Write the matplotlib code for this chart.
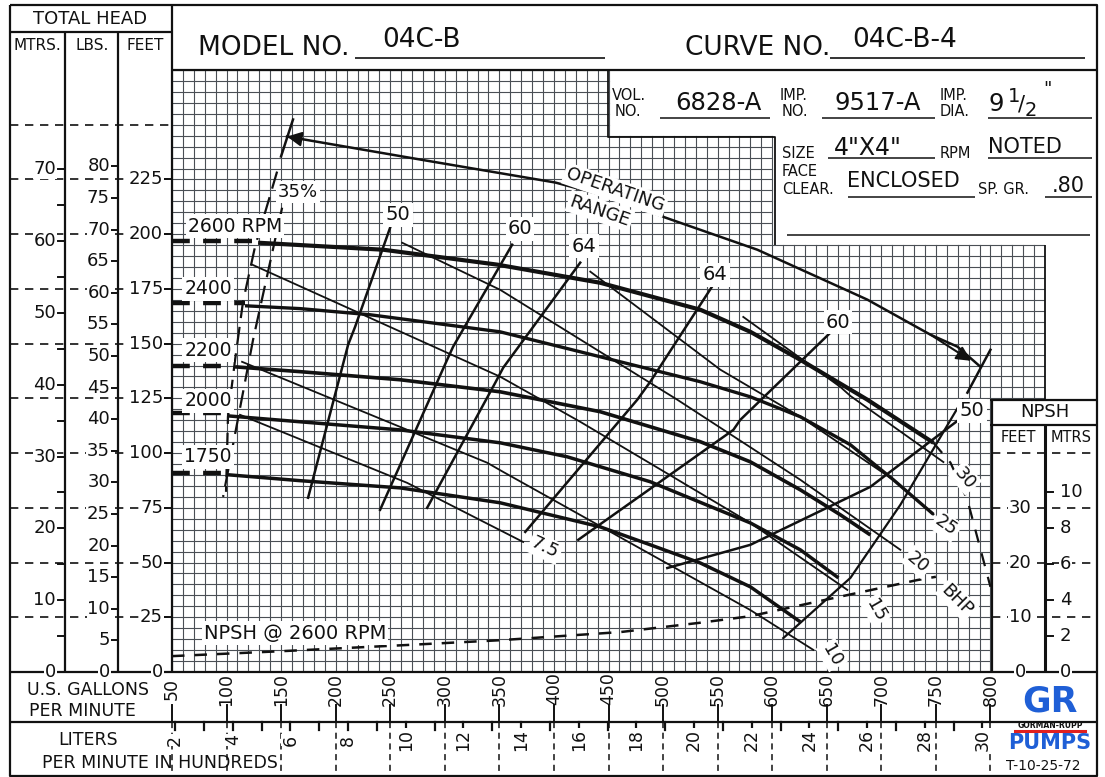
import numpy as np
import matplotlib
matplotlib.use('Agg')
import matplotlib.pyplot as plt
from matplotlib.transforms import blended_transform_factory as blend

plt.rcParams['font.family'] = ['DejaVu Sans']

# ---- head / capacity curves (US gpm, feet) ----
speeds = ['2600', '2400', '2200', '2000', '1750']
shutoff_ft = [197.0, 168.7, 139.9, 118.4, 91.0]
min_flow_gpm = [128.9, 116.9, 107.8, 101.3, 101.3]

q2600 = [128.9, 243.5, 348.0, 442.4, 534.1, 580.0, 625.8, 687.2, 747.8]
h2600 = [196.1, 192.9, 186.1, 177.8, 165.5, 155.4, 142.6, 124.4, 104.7]
q2600_run = [747.8, 763.4, 778.9, 800.0]
h2600_run = [104.7, 95.6, 78.6, 38.9]

q2400 = [116.9, 167.4, 231.5, 350.7, 442.4, 534.1, 580.0, 625.8, 671.7, 711.1, 747.8]
h2400 = [167.3, 166.0, 163.2, 155.4, 144.0, 132.6, 125.7, 116.6, 103.8, 87.8, 72.0]

q2200 = [107.8, 167.4, 259.1, 350.7, 442.4, 534.1, 580.0, 625.8, 662.5, 690.0]
h2200 = [139.4, 137.2, 133.5, 128.0, 118.9, 105.2, 96.0, 83.2, 71.8, 62.6]

q2000 = [101.3, 167.4, 259.1, 350.7, 412.2, 488.3, 580.0, 625.8, 660.7]
h2000 = [117.0, 114.3, 110.6, 104.7, 98.3, 86.9, 68.1, 55.8, 43.0]

q1750 = [101.3, 167.4, 259.1, 350.7, 442.4, 488.3, 534.1, 580.0, 625.8]
h1750 = [90.1, 87.4, 84.1, 77.3, 66.3, 58.1, 49.8, 38.9, 22.9]

# ---- brake horsepower lines ----
q_bhp75 = [112.3, 265.5, 371.8]
h_bhp75 = [117.5, 86.4, 59.4]
q_bhp10 = [114.2, 338.8, 353.5, 580.0, 637.7]
h_bhp10 = [141.7, 95.6, 91.4, 28.3, 10.1]
q_bhp15 = [123.4, 350.7, 424.1, 580.0, 668.9]
h_bhp15 = [186.1, 134.9, 114.3, 68.1, 37.5]
q_bhp20 = [260.9, 350.7, 513.0, 625.8, 717.5]
h_bhp20 = [196.1, 174.6, 124.4, 87.8, 55.8]
q_bhp25 = [433.3, 552.5, 625.8, 711.1, 747.8]
h_bhp25 = [182.9, 138.1, 116.6, 87.8, 72.0]
q_bhp30 = [573.5, 662.5, 671.7, 756.9]
h_bhp30 = [162.2, 130.2, 126.1, 95.9]

# ---- efficiency lines ----
eff_labels = ['50', '60', '64', '64', '60', '50']
q_e50a = [249.9, 217.8, 211.4, 174.7]
h_e50a = [203.0, 157.7, 149.5, 79.6]
q_e60a = [361.7, 307.6, 302.1, 240.7]
h_e60a = [195.2, 148.6, 142.6, 74.1]
q_e64a = [424.1, 353.5, 346.2, 283.8]
h_e64a = [187.0, 139.0, 132.1, 75.0]
q_e64b = [546.0, 488.3, 476.4, 373.7]
h_e64b = [176.9, 132.6, 124.4, 64.0]
q_e60b = [653.3, 570.8, 564.4, 422.3]
h_e60b = [155.0, 115.2, 110.6, 60.4]
q_e50b = [777.1, 690.0, 580.0, 503.9]
h_e50b = [117.5, 84.6, 58.1, 47.5]
q_e35 = [150.9, 124.3, 96.8]
h_e35 = [212.1, 151.8, 80.0]

# minimum flow line and maximum flow line
q_min = [146.3, 135.3, 126.1, 115.1, 107.8, 101.3, 99.5]
h_min = [228.6, 209.9, 194.3, 169.2, 142.6, 116.6, 82.3]
q_max = [774.4, 717.5, 671.7, 610.2]
h_max = [124.4, 76.4, 43.0, 15.5]

# operating range arrow
q_op = [155.4, 277.4, 401.2, 455.0, 502.0, 586.4, 687.2, 745.0, 769.8, 790.9]
h_op = [244.6, 234.1, 223.6, 216.5, 207.6, 192.9, 170.1, 154.1, 148.6, 139.4]

# NPSH required @ 2600 rpm (feet of NPSH)
q_npsh = [50, 150, 262, 350, 461, 534, 580, 656, 733, 750]
npsh_ft = [2.9, 3.8, 4.9, 5.8, 7.3, 9.0, 10.2, 13.5, 16.8, 17.4]

gpm_ticks = list(range(50, 801, 50))
liter_ticks = list(range(2, 31, 2))
feet_ticks = list(range(0, 226, 25))
psi_ticks = list(range(0, 81, 5))
m_ticks = list(range(0, 71, 10))
npsh_ft_ticks = [0, 10, 20, 30]
npsh_m_ticks = [0, 2, 4, 6, 8, 10]

SG = 0.80
W, H = 1105, 777
fig = plt.figure(figsize=(W / 100, H / 100), dpi=100)
fig.patch.set_facecolor('white')

# data axes = grid area
x0, x1, y0, y1 = 172, 1045, 70, 672
ax = fig.add_axes([x0 / W, (H - y1) / H, (x1 - x0) / W, (y1 - y0) / H])
ax.set_xlim(50, 850)
ax.set_ylim(0, 275)
ax.axis('off')
ax.set_zorder(1)

# frame axes in pixels, on top
fr = fig.add_axes([0, 0, 1, 1])
fr.set_xlim(0, W)
fr.set_ylim(H, 0)
fr.axis('off')
fr.set_zorder(2)
fr.patch.set_visible(False)

ink = '#111111'
gcol = '#4a4f55'

# graph paper, cut around the data box and the NPSH box
for q in np.arange(50, 851, 10):
    top = 275 if q <= 450 else (245 if q <= 600 else 195)
    bot = 125 if q > 800 else 0
    ax.plot([q, q], [bot, top], color=gcol, lw=0.8, zorder=1)
for h in np.arange(0, 276, 5):
    right = 450 if h > 245 else (600 if h > 195 else (850 if h >= 125 else 800))
    ax.plot([50, right], [h, h], color=gcol, lw=0.8, zorder=1)

# head curves
qs = [q2600, q2400, q2200, q2000, q1750]
hs = [h2600, h2400, h2200, h2000, h1750]
widths = [3.0, 2.4, 2.6, 2.5, 2.5]
for q, h, h0, qm, lw in zip(qs, hs, shutoff_ft, min_flow_gpm, widths):
    ax.plot([50, qm], [h0, h0], color=ink, lw=3.2, ls=(0, (4, 3)), zorder=3)
    ax.plot(q, h, color=ink, lw=lw, zorder=3, solid_capstyle='butt',
            solid_joinstyle='round')
ax.plot(q2600_run, h2600_run, color=ink, lw=1.6, ls=(0, (6, 5)), zorder=3)

# bhp lines
for q, h in [(q_bhp75, h_bhp75), (q_bhp10, h_bhp10), (q_bhp15, h_bhp15),
             (q_bhp20, h_bhp20), (q_bhp25, h_bhp25), (q_bhp30, h_bhp30)]:
    ax.plot(q, h, color=ink, lw=1.3, zorder=3)

# efficiency lines
for q, h in [(q_e50a, h_e50a), (q_e60a, h_e60a), (q_e64a, h_e64a),
             (q_e64b, h_e64b), (q_e60b, h_e60b), (q_e50b, h_e50b)]:
    ax.plot(q, h, color=ink, lw=1.8, zorder=3)
ax.plot(q_e35, h_e35, color=ink, lw=1.6, ls=(0, (8, 4)), zorder=3)
ax.plot(q_min, h_min, color=ink, lw=1.6, ls=(0, (8, 4)), zorder=3)
ax.plot(q_max, h_max, color=ink, lw=1.6, zorder=3)

# operating range
ax.plot(q_op, h_op, color=ink, lw=1.8, zorder=3)
ax.plot([160.9, 149.9], [252.4, 235.5], color=ink, lw=1.8, zorder=3)
ax.plot([800.0, 778.9], [147.2, 127.6], color=ink, lw=1.8, zorder=3)
ax.annotate('', xy=(q_op[0], h_op[0]), xytext=(q_op[1], h_op[1]),
            arrowprops=dict(arrowstyle='-|>', color=ink, lw=1.5,
                            mutation_scale=22, shrinkA=90, shrinkB=0), zorder=4)
ax.annotate('', xy=(q_op[-1], h_op[-1]), xytext=(q_op[-3], h_op[-3]),
            arrowprops=dict(arrowstyle='-|>', color=ink, lw=1.5,
                            mutation_scale=22, shrinkA=0, shrinkB=8), zorder=4)

# npsh curve (NPSH scale is 2.5x head scale)
ax.plot(q_npsh, np.array(npsh_ft) * 2.5, color=ink, lw=1.8, ls=(0, (5, 4)), zorder=3)

# ---- labels on the chart ----
wb = dict(facecolor='white', edgecolor='none', pad=1.5)
def lab(x, y, s, fs=13, rot=0):
    fr.text(x, y, s, fontsize=fs, rotation=rot, ha='center', va='center',
            color=ink, bbox=wb, zorder=5, rotation_mode='anchor')

lab(235, 226, '2600 RPM', fs=13.5)
for s, y in zip(speeds[1:], [289, 350, 401, 457]):
    lab(208, y, s, fs=13.5)
lab(298, 192, '35%')
for s, (x, y) in zip(eff_labels, [(398, 215), (520, 229), (584, 246),
                                  (715, 275), (838, 322), (972, 411)]):
    lab(x, y, s, fs=14)
lab(615, 190, 'OPERATING', rot=-19)
lab(600, 211, 'RANGE', rot=-19)
lab(965, 478, '30', rot=-50)
lab(946, 526, '25', rot=-35)
lab(918, 562, '20', rot=-40)
lab(957, 600, 'BHP', rot=-45)
lab(876, 610, '15', rot=-60)
lab(832, 655, '10', rot=-60)
lab(545, 548, '7.5', rot=-25)
lab(295, 633, 'NPSH @ 2600 RPM', fs=14)

# ---- frame ----
def line(xs, ys, lw=1.6, **kw):
    fr.plot(xs, ys, color=ink, lw=lw, solid_capstyle='butt', **kw)

line([10, 1097, 1097, 10, 10], [5, 5, 776, 776, 5])
line([10, 172], [32, 32])
line([172, 172], [5, 672])
line([65, 65], [32, 672])
line([118, 118], [32, 672])
line([172, 1097], [70, 70])
line([10, 1097], [672, 672])
line([10, 1097], [722, 722])
line([608, 608, 775, 775], [70, 137, 137, 245], lw=1.3)
line([1045, 1045], [245, 400], lw=1.3)
line([990, 1097], [400, 400])
line([990, 1097], [425, 425])
line([992, 992], [400, 672])
line([1045, 1045], [425, 672], lw=2.2)

# total head scales
yft = blend(fr.transData, ax.transData)
nb = dict(facecolor='white', edgecolor='none', pad=0.5)
fr.text(90, 19, 'TOTAL HEAD', fontsize=13, ha='center', va='center', color=ink)
fr.text(37, 46, 'MTRS.', fontsize=11, ha='center', va='center', color=ink)
fr.text(92, 46, 'LBS.', fontsize=11, ha='center', va='center', color=ink)
fr.text(145, 46, 'FEET', fontsize=11, ha='center', va='center', color=ink)
for f in range(0, 251, 25):
    fr.plot([10, 172], [f, f], transform=yft, color=ink, lw=1.2, ls=(0, (5, 4)))
for f in feet_ticks:
    fr.text(163, f, str(f), transform=yft, fontsize=13, ha='right', va='center',
            color=ink, bbox=nb)
    fr.plot([164, 172], [f, f], transform=yft, color=ink, lw=1.4)
for p in psi_ticks:
    f = p * 2.31 / SG
    fr.text(110, f, str(p), transform=yft, fontsize=13, ha='right', va='center',
            color=ink, bbox=nb)
    fr.plot([111, 118], [f, f], transform=yft, color=ink, lw=1.4)
for m in range(0, 71, 5):
    f = m / 0.3048
    fr.plot([58, 65], [f, f], transform=yft, color=ink, lw=1.4)
for m in m_ticks:
    fr.text(56, m / 0.3048, str(m), transform=yft, fontsize=13, ha='right',
            va='center', color=ink, bbox=nb)

# npsh scale
fr.text(1045, 412, 'NPSH', fontsize=13, ha='center', va='center', color=ink)
fr.text(1018, 437, 'FEET', fontsize=10.5, ha='center', va='center', color=ink)
fr.text(1071, 437, 'MTRS', fontsize=10.5, ha='center', va='center', color=ink)
for n in range(0, 41, 10):
    fr.plot([992, 1097], [n * 2.5, n * 2.5], transform=yft, color=ink, lw=1.2,
            ls=(0, (5, 4)))
for n in npsh_ft_ticks:
    fr.text(1020, n * 2.5, str(n), transform=yft, fontsize=13, ha='center',
            va='center', color=ink, bbox=nb)
for m in npsh_m_ticks:
    f = m / 0.3048 * 2.5
    fr.plot([1045, 1053], [f, f], transform=yft, color=ink, lw=1.4)
    fr.text(1060, f, str(m), transform=yft, fontsize=13, ha='left', va='center',
            color=ink, bbox=nb)

# gpm and liters scales
xq = blend(ax.transData, fr.transData)
fr.text(88, 690, 'U.S. GALLONS', fontsize=12.5, ha='center', va='center', color=ink)
fr.text(82, 711, 'PER MINUTE', fontsize=12.5, ha='center', va='center', color=ink)
fr.text(88, 740, 'LITERS', fontsize=12.5, ha='center', va='center', color=ink)
fr.text(160, 763, 'PER MINUTE IN HUNDREDS', fontsize=12.5, ha='center',
        va='center', color=ink)
for q in gpm_ticks:
    fr.text(q, 689, str(q), transform=xq, rotation=90, fontsize=12.5,
            ha='center', va='center', color=ink)
    fr.plot([q, q], [705, 722], transform=xq, color=ink, lw=1.4)
    fr.plot([q, q], [722, 776], transform=xq, color=ink, lw=1.1, ls=(0, (4, 3)))
for l in range(2, 31):
    q = l * 100 / 3.785
    fr.plot([q, q], [722, 730], transform=xq, color=ink, lw=1.6)
for l in liter_ticks:
    q = l * 100 / 3.785
    fr.text(q, 740, str(l), transform=xq, rotation=90, fontsize=12.5,
            ha='center', va='center', color=ink, bbox=nb)

# title block
fr.text(198, 48, 'MODEL NO.', fontsize=19, ha='left', va='center', color=ink)
fr.text(422, 40, '04C-B', fontsize=19, ha='center', va='center', color=ink)
line([355, 605], [58, 58], lw=1.2)
fr.text(685, 48, 'CURVE NO.', fontsize=19, ha='left', va='center', color=ink)
fr.text(905, 40, '04C-B-4', fontsize=19, ha='center', va='center', color=ink)
line([830, 1085], [58, 58], lw=1.2)

def small(x, y, s):
    fr.text(x, y, s, fontsize=10.5, ha='left', va='center', color=ink)
small(612, 95, 'VOL.'); small(615, 112, 'NO.')
fr.text(718, 103, '6828-A', fontsize=17.5, ha='center', va='center', color=ink)
line([660, 770], [118, 118], lw=1.1)
small(780, 95, 'IMP.'); small(782, 112, 'NO.')
fr.text(878, 103, '9517-A', fontsize=17.5, ha='center', va='center', color=ink)
line([822, 935], [118, 118], lw=1.1)
small(940, 95, 'IMP.'); small(940, 112, 'DIA.')
fr.text(996, 104, '9', fontsize=17.5, ha='center', va='center', color=ink)
fr.text(1014, 96, '1', fontsize=14, ha='center', va='center', color=ink)
fr.text(1022, 104, '/', fontsize=15, ha='center', va='center', color=ink)
fr.text(1031, 110, '2', fontsize=14, ha='center', va='center', color=ink)
fr.text(1047, 89, '"', fontsize=13, ha='center', va='center', color=ink)
line([988, 1092], [118, 118], lw=1.1)
small(782, 153, 'SIZE')
fr.text(868, 148, '4"X4"', fontsize=17, ha='center', va='center', color=ink)
line([828, 935], [158, 158], lw=1.1)
small(940, 153, 'RPM')
fr.text(1025, 147, 'NOTED', fontsize=15, ha='center', va='center', color=ink)
line([988, 1092], [158, 158], lw=1.1)
small(782, 172, 'FACE'); small(782, 190, 'CLEAR.')
fr.text(903, 181, 'ENCLOSED', fontsize=15, ha='center', va='center', color=ink)
line([848, 975], [197, 197], lw=1.1)
small(978, 190, 'SP. GR.')
fr.text(1068, 186, '.80', fontsize=15, ha='center', va='center', color=ink)
line([1045, 1092], [197, 197], lw=1.1)
line([787, 1090], [235, 235], lw=1.1)

# logo
blue = '#1f5fd6'
fr.text(1050, 701, 'GR', fontsize=25, fontweight='bold', ha='center',
        va='center', color=blue)
fr.text(1050, 726, 'GORMAN-RUPP', fontsize=5.5, fontweight='bold', ha='center',
        va='center', color=ink)
fr.plot([1015, 1085], [731, 731], color='#e02020', lw=2.2)
fr.text(1050, 743, 'PUMPS', fontsize=15, fontweight='bold', ha='center',
        va='center', color=blue)
fr.text(1043, 766, 'T-10-25-72', fontsize=10, ha='center', va='center',
        color=ink)

fig.savefig('out.png', dpi=100)
